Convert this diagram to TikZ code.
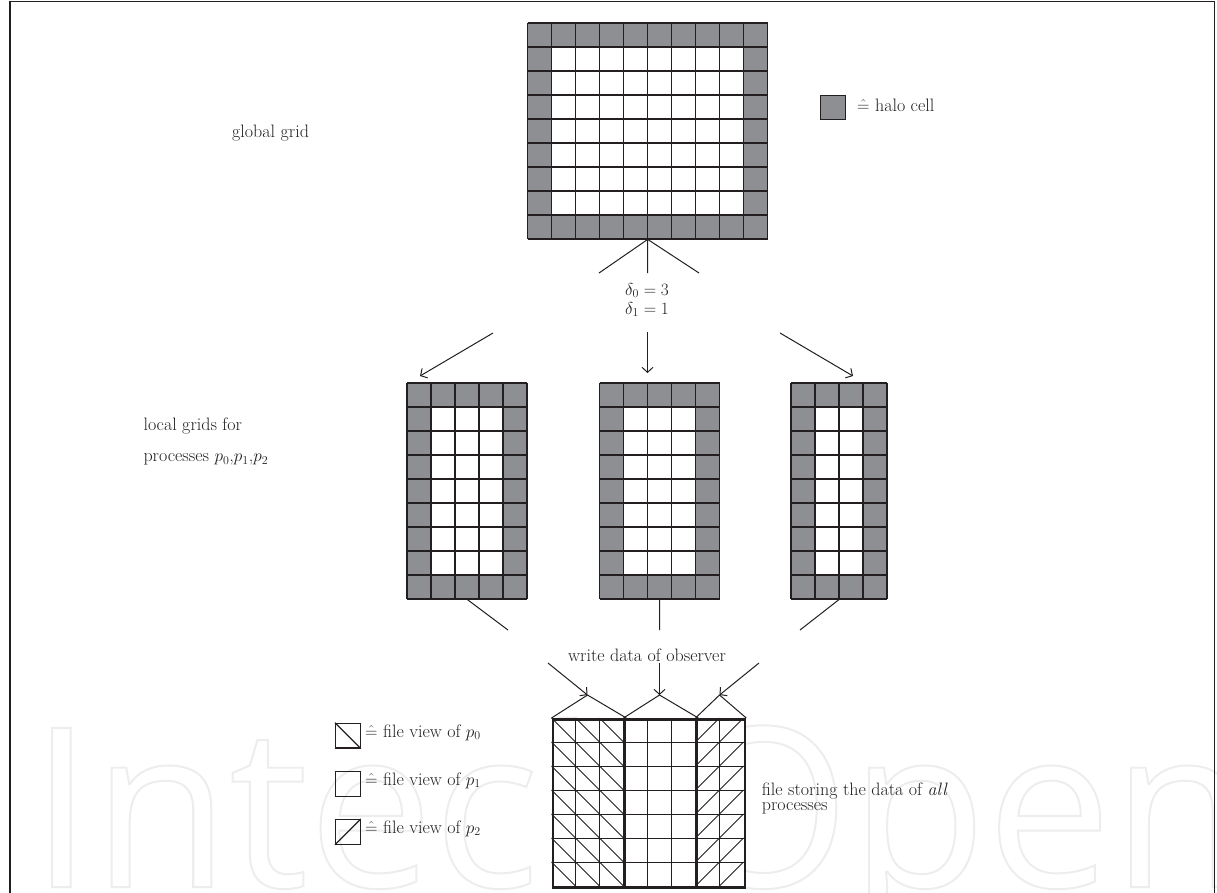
\documentclass[tikz,border=0pt]{standalone}
\usepackage{fontspec}
\usetikzlibrary{arrows.meta}
\newfontfamily\wmfont{Open Sans}
\definecolor{halo}{RGB}{142,143,147}
\definecolor{ink}{RGB}{35,31,32}
\newcommand\halogrid[5]{%
  \fill[halo] (#2,#3) rectangle ++(#4*24,#5*24);
  \fill[white] (#2+24,#3+24) rectangle ++(#4*24-48,#5*24-48);
  \foreach \i in {0,...,#4} \draw[gl] (#2+\i*24,#3) -- ++(0,#5*24);
  \foreach \j in {0,...,#5} \draw[gl] (#2,#3+\j*24) -- ++(#4*24,0);
  \node[inner sep=0,minimum width=#4*24pt,minimum height=#5*24pt,anchor=north west] (#1) at (#2,#3) {};
}
\begin{document}
\begin{tikzpicture}[x=1pt,y=-1pt,
  gl/.style={line width=1.3pt,draw=ink},
  thinl/.style={line width=1pt,draw=ink},
  thickl/.style={line width=2.8pt,draw=ink},
  conn/.style={line width=1pt,draw=ink},
  arr/.style={conn,-{Straight Barb[length=5pt,width=11pt]}},
  lbl/.style={font=\fontsize{18}{16}\selectfont,inner sep=0,anchor=base west,text=ink},
  legbox/.style={draw=ink,line width=1.3pt,minimum size=24.5pt,inner sep=0}]
\useasboundingbox (0,0) rectangle (1217,892);
% watermark
\node[anchor=base west,inner sep=0,text=black!7,font=\wmfont\fontsize{223}{223}\selectfont] (wm) at (30,887)
  {\special{pdf:literal direct 1 Tr 2 w}IntechOpen\special{pdf:literal direct 0 Tr}};
% frame
\draw[line width=1.3pt,draw=ink] (10,893) -- (10,1.5) -- (1214.5,1.5) -- (1214.5,893);
% global grid
\halogrid{glob}{527.5}{23}{10}{9}
\node[lbl] (tglob) at (232,137) {global grid};
\node[legbox,fill=halo,anchor=north west] (hl) at (820,94.5) {};
\node[lbl] (thl) at (857,111.7) {$\hat{=}$ halo cell};
% split lines
\coordinate (s0) at (599,273);
\coordinate (s1) at (647.5,273);
\coordinate (s2) at (699,273);
\draw[conn] (glob.south) -- (s0);
\draw[conn] (glob.south) -- (s1);
\draw[conn] (glob.south) -- (s2);
\node[lbl,anchor=base] (d0) at (647,295) {$\delta_0=3$};
\node[lbl,anchor=base] (d1) at (647,314) {$\delta_1=1$};
% local grids
\halogrid{g0}{407}{383}{5}{9}
\halogrid{g1}{599.5}{383}{5}{9}
\halogrid{g2}{791}{383}{4}{9}
\coordinate (b0) at (493,333);
\coordinate (b1) at (647.5,332);
\coordinate (b2) at (780,333);
\coordinate (e0) at (420,376);
\coordinate (e1) at (647.5,373);
\coordinate (e2) at (853,376);
\draw[arr] (b0) -- (e0);
\draw[arr] (b1) -- (e1);
\draw[arr] (b2) -- (e2);
\node[lbl] (tl1) at (143.3,430) {local grids for};
\node[lbl] (tl2) at (143.3,461.7) {processes $p_0$,$p_1$,$p_2$};
% lines to observer
\coordinate (w0) at (508,630);
\coordinate (w1) at (659.5,630);
\coordinate (w2) at (800,630);
\draw[conn] (g0.south) -- (w0);
\draw[conn] (g1.south) -- (w1);
\draw[conn] (g2.south) -- (w2);
\node[lbl,anchor=base] (tw) at (647,661.7) {write data of observer};
\coordinate (v0) at (548,663);
\coordinate (v1) at (659.5,663);
\coordinate (v2) at (759,663);
\coordinate (a0) at (587.5,695);
\coordinate (a1) at (659.5,695);
\coordinate (a2) at (719.5,695);
\draw[arr] (v0) -- (a0);
\draw[arr] (v1) -- (a1);
\draw[arr] (v2) -- (a2);
% file grid
\fill[white] (551.5,718) rectangle (743.5,886);
\foreach \i in {1,...,7} \draw[thinl] (551.5+\i*24,718) -- ++(0,168);
\foreach \j in {1,...,6} \draw[thinl] (551.5,718+\j*24) -- ++(192,0);
\foreach \i in {0,1,2} \foreach \j in {0,...,6}
  \draw[thinl] (551.5+\i*24,718+\j*24) -- ++(24,24);
\foreach \i in {0,1} \foreach \j in {0,...,6}
  \draw[thinl] (695.5+\i*24,742+\j*24) -- ++(24,-24);
\node[inner sep=0,minimum width=72pt,minimum height=168pt,anchor=north west,thickl,draw] (f0) at (551.5,718) {};
\node[inner sep=0,minimum width=72pt,minimum height=168pt,anchor=north west,thickl,draw] (f1) at (623.5,718) {};
\node[inner sep=0,minimum width=48pt,minimum height=168pt,anchor=north west,thickl,draw] (f2) at (695.5,718) {};
\draw[conn] (f0.north west) -- (a0) -- (f0.north east);
\draw[conn] (f1.north west) -- (a1) -- (f1.north east);
\draw[conn] (f2.north west) -- (a2) -- (f2.north east);
\node[lbl] (tf1) at (761.7,795) {file storing the data of \emph{all}};
\node[lbl] (tf2) at (761.7,810.7) {processes};
% legend
\node[legbox,anchor=north west] (lb0) at (335,722.7) {};
\node[legbox,anchor=north west] (lb1) at (335,771) {};
\node[legbox,anchor=north west] (lb2) at (335,819) {};
\draw[thinl,line width=1.2pt] (lb0.north west) -- (lb0.south east);
\draw[thinl,line width=1.2pt] (lb2.south west) -- (lb2.north east);
\node[lbl] (tlb0) at (365,737) {$\hat{=}$ file view of $p_0$};
\node[lbl] (tlb1) at (365,785) {$\hat{=}$ file view of $p_1$};
\node[lbl] (tlb2) at (365,833) {$\hat{=}$ file view of $p_2$};
\end{tikzpicture}
\end{document}
